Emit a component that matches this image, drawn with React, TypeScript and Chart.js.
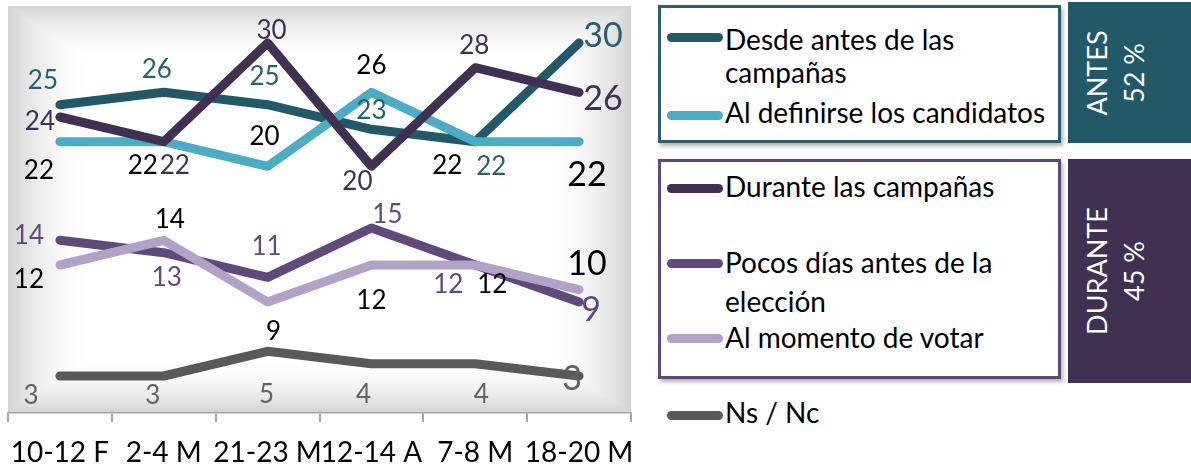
import React, { useEffect, useRef } from 'react';
import { Chart, registerables } from 'chart.js';

Chart.register(...registerables);

// ---------- data ----------
const categories = ['10-12 F', '2-4 M', '21-23 M', '12-14 A', '7-8 M', '18-20 M'];
const seriesNames = [
  'Desde antes de las campañas',
  'Al definirse los candidatos',
  'Durante las campañas',
  'Pocos días antes de la elección',
  'Al momento de votar',
  'Ns / Nc',
];
const desdeAntes = [25, 26, 25, 23, 22, 30];
const alDefinirse = [22, 22, 20, 26, 22, 22];
const duranteCampanas = [24, 22, 30, 20, 28, 26];
const pocosDias = [14, 13, 11, 15, 12, 9];
const alMomento = [12, 14, 9, 12, 12, 10];
const nsNc = [3, 3, 5, 4, 4, 3];
const groupAntes = ['ANTES', '52 %'];
const groupDurante = ['DURANTE', '45 %'];

// ---------- styles ----------
const FONT = 'Lato, "Open Sans", sans-serif';
const lineColors = ['#215968', '#4BACC6', '#403152', '#604A7B', '#B3A2C7', '#595959'];
const labelColors = ['#25616F', '#000000', '#403152', '#604A7B', '#000000', '#636363'];
// label centre offsets [dx, dy] from each point
const labelOffsets = [
  [[-17, -25], [-7, -24], [-3, -29], [0, -20], [16, 24], [24, -8]],
  [[-21, 28], [-21, 23], [-3, -31], [0, -28], [-28, 23], [8, 32]],
  [[-20, 4], [11, 23], [4, -13], [-14, 14], [-1, -23], [24, 6]],
  [[-31, -6], [3, 24], [-1, -32], [16, -14], [-27, 19], [12, 7]],
  [[-31, 14], [6, -22], [6, 29], [0, 35], [17, 19], [8, -27]],
  [[-29, 19], [-11, 19], [-1, 42], [-8, 30], [6, 30], [-7, 2]],
];

const bgPlugin = {
  id: 'bgGradient',
  beforeDraw(chart: any) {
    const { ctx, chartArea } = chart;
    const { left, top, right, bottom } = chartArea;
    const w = Math.round(right - left);
    const h = Math.round(bottom - top);
    const off = document.createElement('canvas');
    off.width = w;
    off.height = h;
    const octx = off.getContext('2d')!;
    const img = octx.createImageData(w, h);
    const cx = w / 2, cy = h / 2;
    for (let y = 0; y < h; y++) {
      for (let x = 0; x < w; x++) {
        const tx = Math.abs(x + 0.5 - cx) / cx;
        const ty = Math.abs(y + 0.5 - cy) / cy;
        const t = Math.max(tx, ty);
        let k = (t - 0.72) / 0.28;
        k = Math.max(0, Math.min(1, k));
        k = k * k;
        const c = Math.round(255 - 44 * k);
        const i = (y * w + x) * 4;
        img.data[i] = c;
        img.data[i + 1] = c;
        img.data[i + 2] = c;
        img.data[i + 3] = 255;
      }
    }
    octx.putImageData(img, 0, 0);
    ctx.save();
    ctx.drawImage(off, left, top);
    ctx.restore();
  },
};

const labelPlugin = {
  id: 'pointLabels',
  afterDatasetsDraw(chart: any) {
    const { ctx } = chart;
    ctx.save();
    ctx.textAlign = 'center';
    ctx.textBaseline = 'middle';
    chart.data.datasets.forEach((ds: any, di: number) => {
      const meta = chart.getDatasetMeta(di);
      meta.data.forEach((pt: any, i: number) => {
        const last = i === ds.data.length - 1;
        ctx.font = `${last ? 34 : 26}px ${FONT}`;
        ctx.fillStyle = labelColors[di];
        const [dx, dy] = labelOffsets[di][i];
        ctx.fillText(String(ds.data[i]), pt.x + dx, pt.y + dy + 1);
      });
    });
    ctx.restore();
  },
};

function ChartCanvas() {
  const ref = useRef<HTMLCanvasElement>(null);
  useEffect(() => {
    const values = [desdeAntes, alDefinirse, duranteCampanas, pocosDias, alMomento, nsNc];
    const chart = new Chart(ref.current!, {
      type: 'line',
      data: {
        labels: categories,
        datasets: values.map((v, i) => ({
          label: seriesNames[i],
          data: v,
          borderColor: lineColors[i],
          backgroundColor: lineColors[i],
          borderWidth: 9,
          borderCapStyle: 'round',
          borderJoinStyle: 'round',
          pointRadius: 0,
          tension: 0,
          order: values.length - i,
        })),
      },
      options: {
        animation: false,
        responsive: false,
        maintainAspectRatio: false,
        layout: { padding: { left: 8, right: 9, top: 6, bottom: 0 } },
        plugins: { legend: { display: false }, tooltip: { enabled: false } },
        scales: {
          x: {
            offset: true,
            grid: {
              offset: true,
              drawOnChartArea: false,
              drawTicks: true,
              tickLength: 9,
              color: '#A6A6A6',
              lineWidth: 2,
            },
            border: { display: true, color: '#A6A6A6', width: 1.5 },
            ticks: {
              autoSkip: false,
              maxRotation: 0,
              minRotation: 0,
              padding: 14,
              color: '#000000',
              font: { family: FONT, size: 28 },
            },
            afterFit(scale: any) {
              scale.height = 54;
              scale.paddingLeft = 0;
              scale.paddingRight = 0;
            },
          },
          y: { display: false, min: 0, max: 33 },
        },
      },
      plugins: [bgPlugin, labelPlugin],
    } as any);
    return () => chart.destroy();
  }, []);
  return <canvas ref={ref} width={640} height={467} style={{ position: 'absolute', left: 0, top: 0 }} />;
}

const sample = (color: string, y: number) => (
  <div
    style={{
      position: 'absolute',
      left: 667,
      top: y - 4.5,
      width: 56,
      height: 9,
      borderRadius: 5,
      background: color,
    }}
  />
);

const text = (t: string, baseline: number) => (
  <div
    style={{
      position: 'absolute',
      left: 725,
      top: baseline - 28,
      fontFamily: FONT,
      fontSize: 28,
      lineHeight: '34px',
      color: '#000',
      whiteSpace: 'nowrap',
    }}
  >
    {t}
  </div>
);

const sideBox = (lines: string[], top: number, height: number, bg: string) => (
  <div
    style={{
      position: 'absolute',
      left: 1068,
      top,
      width: 123,
      height,
      background: bg,
    }}
  >
    <div
      style={{
        position: 'absolute',
        left: 47 - 100,
        top: height / 2 - 37,
        width: 200,
        height: 74,
        transform: 'rotate(-90deg)',
        transformOrigin: '100px 37px',
        color: '#fff',
        fontFamily: FONT,
        fontSize: 27,
        lineHeight: '37px',
        textAlign: 'center',
      }}
    >
      {lines.map((l) => (
        <div key={l}>{l}</div>
      ))}
    </div>
  </div>
);

export default function App() {
  return (
    <div style={{ position: 'absolute', left: 0, top: 0, width: 1191, height: 467, background: '#fff', overflow: 'hidden' }}>
      <ChartCanvas />
      <div
        style={{
          position: 'absolute',
          left: 658,
          top: 5,
          width: 397,
          height: 132,
          border: '3px solid #2A5F6C',
          boxShadow: '2px 3px 4px rgba(0,0,0,0.3)',
          background: '#fff',
        }}
      />
      <div
        style={{
          position: 'absolute',
          left: 658,
          top: 159,
          width: 397,
          height: 214,
          border: '3px solid #5E4A79',
          boxShadow: '2px 3px 4px rgba(0,0,0,0.3)',
          background: '#fff',
        }}
      />
      {sample(lineColors[0], 37)}
      {text('Desde antes de las', 50)}
      {text('campañas', 83)}
      {sample(lineColors[1], 115)}
      {text('Al definirse los candidatos', 123)}
      {sample(lineColors[2], 188)}
      {text('Durante las campañas', 197)}
      {sample(lineColors[3], 263)}
      {text('Pocos días antes de la', 273)}
      {text('elección', 312)}
      {sample(lineColors[4], 338)}
      {text('Al momento de votar', 348)}
      {sample(lineColors[5], 415)}
      {text('Ns / Nc', 423)}
      {sideBox(groupAntes, 2, 141, '#215968')}
      {sideBox(groupDurante, 159, 224, '#403152')}
    </div>
  );
}
